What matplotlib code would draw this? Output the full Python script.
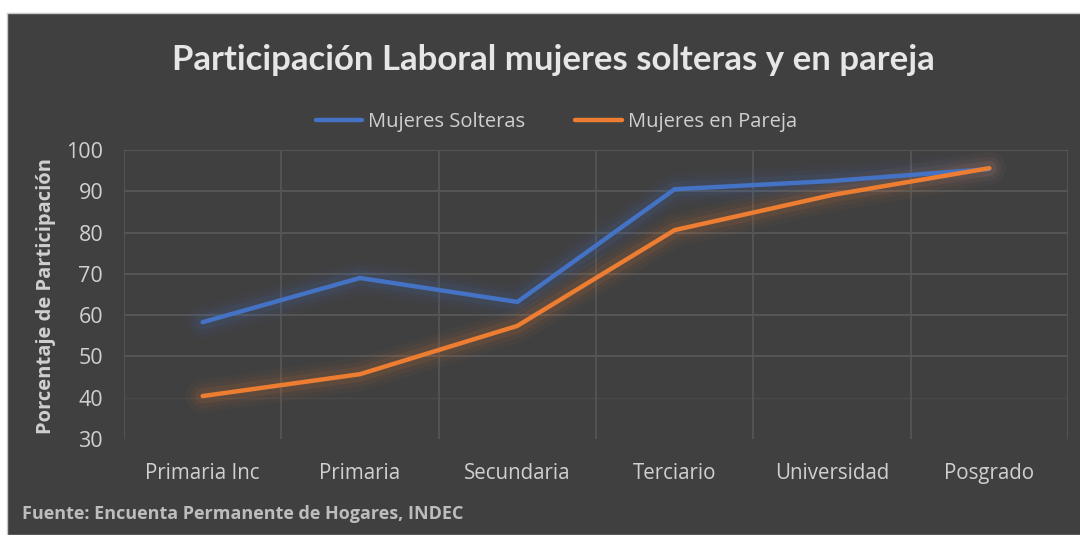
import matplotlib.pyplot as plt
import matplotlib.patches as patches

# Data
categories = ['Primaria Inc', 'Primaria', 'Secundaria', 'Terciario', 'Universidad', 'Posgrado']
solteras = [58.3, 69.0, 63.2, 90.5, 92.5, 95.4]
pareja = [40.4, 45.7, 57.4, 80.6, 89.1, 95.6]
y_ticks = [30, 40, 50, 60, 70, 80, 90, 100]

BG = '#404040'
TXT = '#d0d0d0'
BLUE = '#4472c4'
ORANGE = '#ed7d31'

plt.rcParams['font.family'] = ['Open Sans', 'DejaVu Sans']

fig = plt.figure(figsize=(10.8, 5.35), dpi=100, facecolor='white')

# dark chart area with a thin white margin at top / left
bg = fig.add_axes([0, 0, 1, 1], zorder=-10)
bg.axis('off')
bg.add_patch(patches.Rectangle((7 / 1080, 0), 1, 1 - 13 / 535,
                               transform=bg.transAxes, facecolor=BG,
                               edgecolor='#c8c8c8', linewidth=1))

ax = fig.add_axes([124 / 1080, 1 - 439 / 535, (1068 - 124) / 1080, (439 - 150) / 535])
ax.set_facecolor(BG)

x = list(range(len(categories)))

# soft glow behind the lines
for series, color in [(solteras, BLUE), (pareja, ORANGE)]:
    for lw, a in [(24, 0.04), (17, 0.06), (11, 0.09)]:
        ax.plot(x, series, color=color, linewidth=lw, alpha=a,
                solid_capstyle='round', solid_joinstyle='round', zorder=2)

ax.plot(x, solteras, color=BLUE, linewidth=3.2, label='Mujeres Solteras',
        solid_capstyle='round', solid_joinstyle='round', zorder=3)
ax.plot(x, pareja, color=ORANGE, linewidth=3.2, label='Mujeres en Pareja',
        solid_capstyle='round', solid_joinstyle='round', zorder=4)

ax.set_xlim(-0.5, len(categories) - 0.5)
ax.set_ylim(30, 100)
ax.set_yticks(y_ticks)
ax.set_xticks(x)
ax.set_xticklabels(categories)

# gridlines, fading toward the bottom
for yv in y_ticks:
    if yv >= 50:
        ax.axhline(yv, color='#5a5a5a', linewidth=1.2, zorder=1)
    elif yv == 40:
        ax.axhline(yv, color='#4a4a4a', linewidth=1.0, zorder=1)
for xv in [i + 0.5 for i in range(-1, len(categories))]:
    ax.axvline(xv, color='#565656', linewidth=1.2, zorder=1)

for s in ax.spines.values():
    s.set_visible(False)
ax.tick_params(length=0, colors=TXT)
ax.tick_params(axis='x', labelsize=14.8, pad=17)
ax.tick_params(axis='y', labelsize=15.5, pad=15)

ax.set_ylabel('Porcentaje de Participación', color=TXT, fontsize=14.5,
              fontweight='bold')
ax.yaxis.set_label_coords(-0.072, 0.495)

fig.text(0.512, 1 - 60 / 535, 'Participación Laboral mujeres solteras y en pareja',
         ha='center', va='center', color='#e6e6e6', fontsize=25, fontweight='bold',
         family=['Lato', 'DejaVu Sans'])

fig.legend(loc='center', bbox_to_anchor=(0.515, 1 - 122 / 535), ncol=2, frameon=False,
           fontsize=14.5, labelcolor=TXT, handlelength=2.3, columnspacing=2.5,
           handletextpad=0.3)

fig.text(22 / 1080, 1 - 514 / 535, 'Fuente: Encuenta Permanente de Hogares, INDEC',
         ha='left', va='center', color='#bdbdbd', fontsize=13, fontweight='bold')

fig.savefig('out.png', dpi=100, facecolor=fig.get_facecolor())
